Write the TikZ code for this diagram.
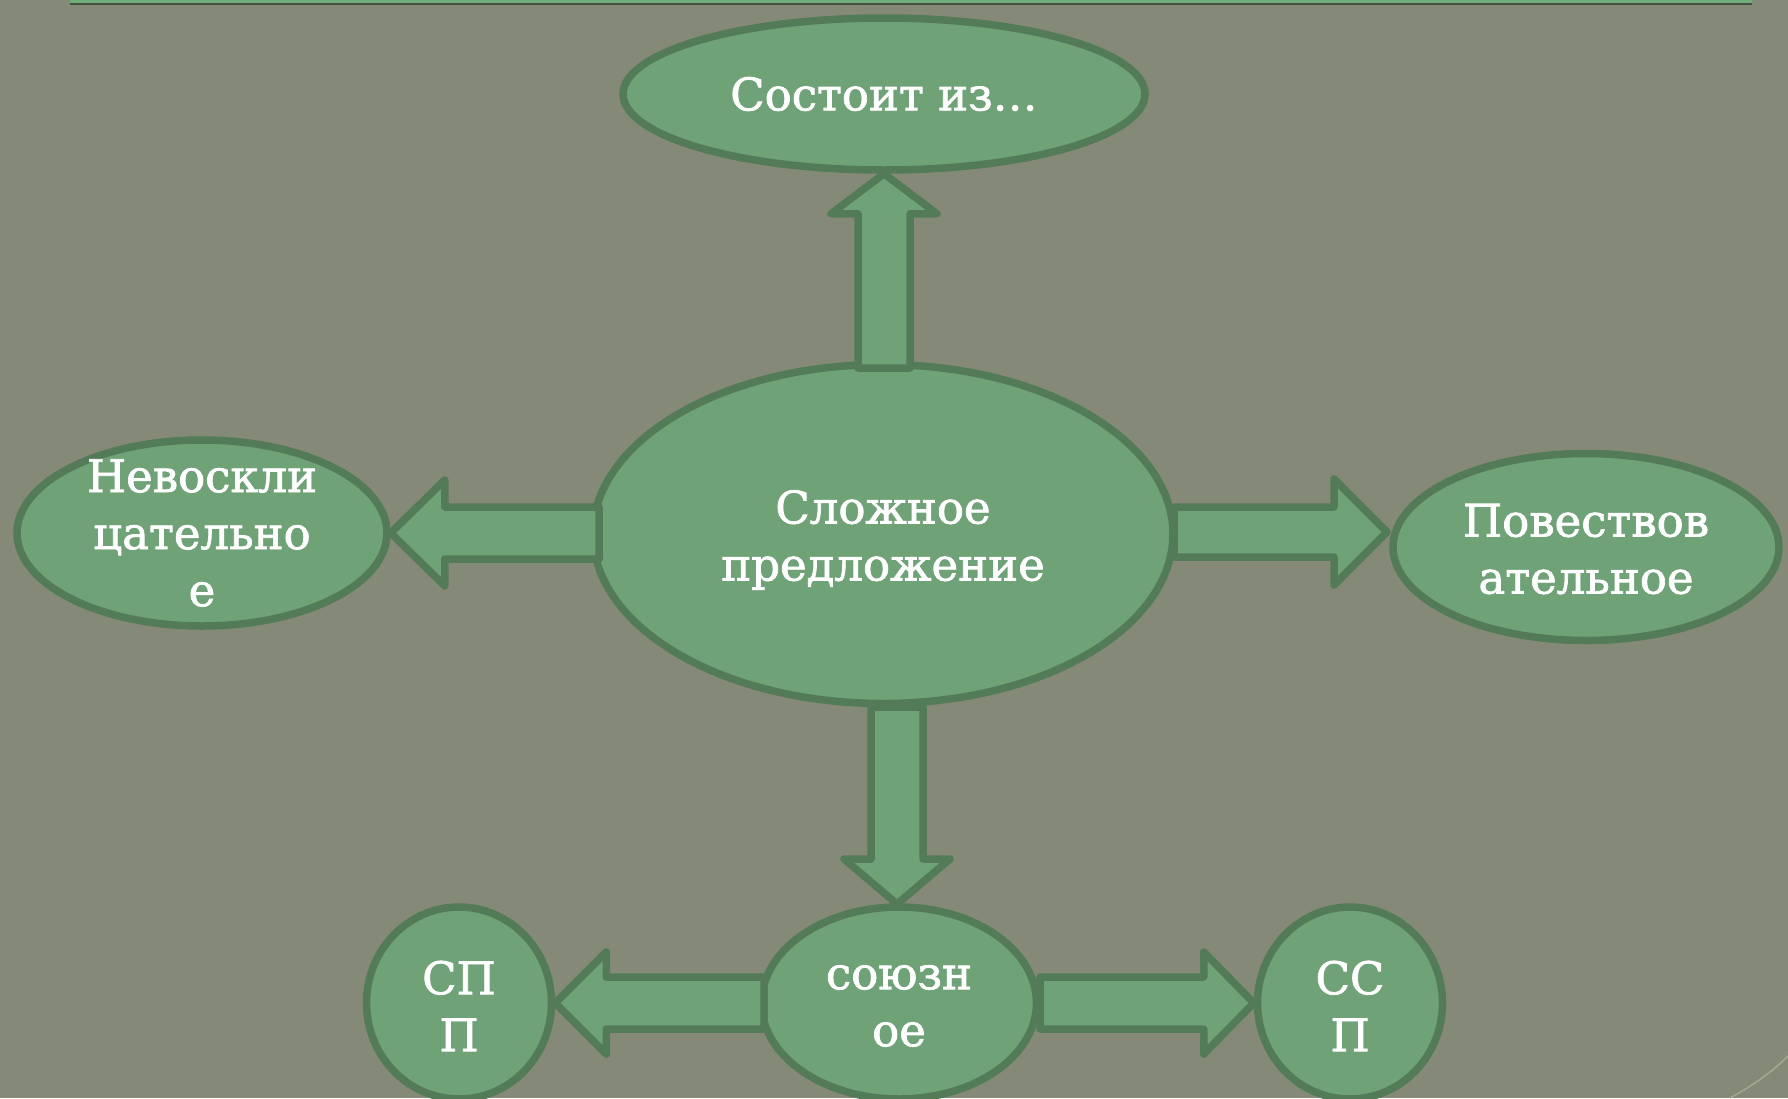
\documentclass[tikz,border=0pt]{standalone}
\usepackage{fontspec}
\setmainfont{DejaVu Serif}[FakeBold=1.6]
\usetikzlibrary{shapes.geometric,calc}
\definecolor{bg}{HTML}{858A78}
\definecolor{fillg}{HTML}{6FA277}
\definecolor{edgeg}{HTML}{537B57}
\definecolor{topg}{HTML}{6FB07A}
\definecolor{topd}{HTML}{4A4F44}
\definecolor{arcc}{HTML}{A3A893}
\newcommand\blockarrow[5]{%
  \coordinate (ba-h) at ($(#2)!#5!(#1)$);
  \draw[arr] ($(#1)!#3!90:(#2)$) -- ($(ba-h)!#3!-90:(#1)$) -- ($(ba-h)!#4!-90:(#1)$) -- (#2)
    -- ($(ba-h)!#4!90:(#1)$) -- ($(ba-h)!#3!90:(#1)$) -- ($(#1)!#3!-90:(#2)$) -- cycle;}
\begin{document}
\begin{tikzpicture}[x=1pt,y=-1pt,
  bubble/.style={ellipse, draw=edgeg, fill=fillg, line width=7.5pt, inner sep=0pt},
  lbl/.style={text=white, align=center, inner sep=0pt, font=\fontsize{45}{57}\selectfont},
  arr/.style={draw=edgeg, fill=fillg, line width=7.5pt, line join=round}]
\fill[bg] (0,0) rectangle (1788,1098);
\useasboundingbox (0,0) rectangle (1788,1098);
% top rule
\fill[topg] (70,0) rectangle (1752,2.5);
\fill[topd] (70,2.5) rectangle (1752,5);
% corner arc
\draw[arcc, line width=1.5pt] (1730,1098) .. controls (1752,1086) and (1772,1072) .. (1788,1056);
% ellipses
\node[bubble, minimum width=522pt, minimum height=152pt] (top) at (884,94) {};
\node[bubble, minimum width=580pt, minimum height=339pt] (mid) at (883,534) {};
\node[bubble, minimum width=370pt, minimum height=186pt] (left) at (202,533) {};
\node[bubble, minimum width=386pt, minimum height=187pt] (right) at (1586,547) {};
\node[bubble, minimum width=275pt, minimum height=192pt] (uni) at (899,1003) {};
\node[bubble, minimum width=185pt, minimum height=192pt] (spp) at (459,1003) {};
\node[bubble, minimum width=185pt, minimum height=192pt] (ssp) at (1350,1003) {};
% labels
\node[lbl] (ttop) at ([yshift=0pt]top.center) {Состоит из…};
\node[lbl] (tmid) at ([yshift=-6pt]mid.center) {Сложное\\предложение};
\node[lbl] (tleft) at (left) {Невоскли\\цательно\\е};
\node[lbl] (tright) at ([yshift=-2pt]right.center) {Повествов\\ательное};
\node[lbl] (tuni) at ([yshift=-3pt]uni.center) {союзн\\ое};
\node[lbl] (tspp) at ([yshift=-3pt]spp.center) {СП\\П};
\node[lbl] (tssp) at ([yshift=-3pt]ssp.center) {СС\\П};
% arrow ends
\coordinate (upA) at (884,368);
\coordinate (upB) at (top.south);
\coordinate (lA) at (599,533);
\coordinate (lB) at (left.east);
\coordinate (rA) at (1174,532);
\coordinate (rB) at (1387,532);
\coordinate (dA) at (897,707);
\coordinate (dB) at (897,904);
\coordinate (blA) at (764,1003);
\coordinate (blB) at (spp.east);
\coordinate (brA) at (1040,1003);
\coordinate (brB) at (ssp.west);
\blockarrow{upA}{upB}{26pt}{53pt}{40pt}
\blockarrow{lA}{lB}{26pt}{53pt}{54pt}
\blockarrow{rA}{rB}{25pt}{53pt}{53pt}
\blockarrow{dA}{dB}{26pt}{53pt}{45pt}
\blockarrow{blA}{blB}{26pt}{51pt}{51pt}
\blockarrow{brA}{brB}{26pt}{51pt}{50pt}
\end{tikzpicture}
\end{document}
